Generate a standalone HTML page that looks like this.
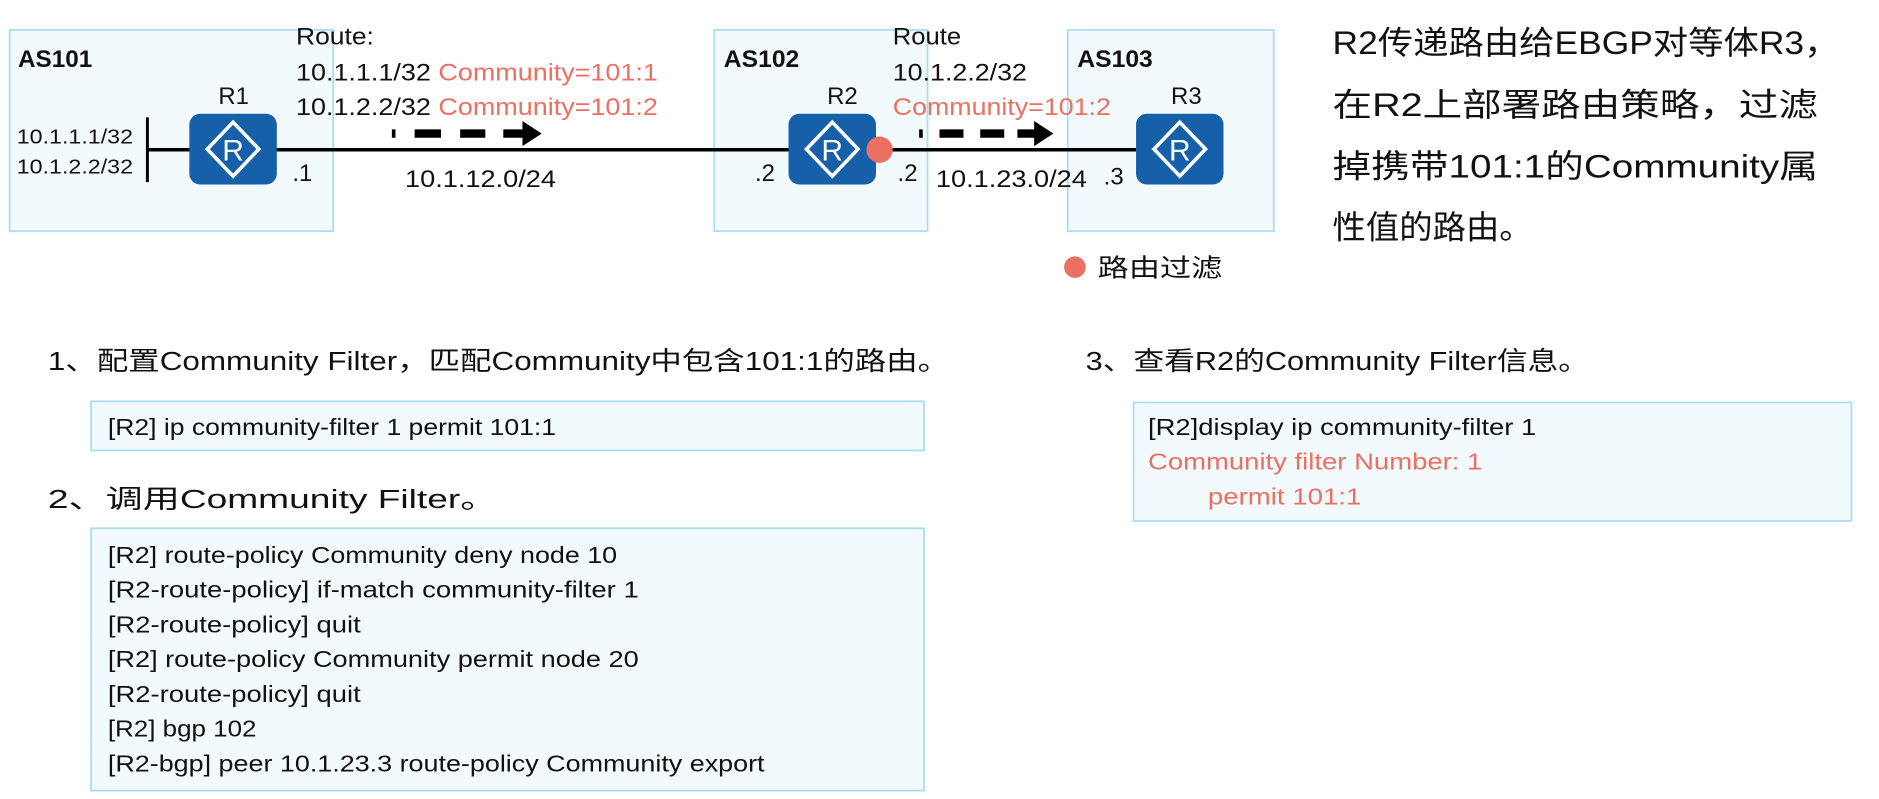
<!DOCTYPE html>
<html><head><meta charset="utf-8"><style>
html,body{margin:0;padding:0;background:#fff;width:1879px;height:799px;overflow:hidden}
svg{display:block}
text{font-family:"Liberation Sans","Noto Sans CJK SC",sans-serif;fill:#111}
.r{fill:#ec6f61}
.b{fill:#f3fafd;stroke:#a9dff3;stroke-width:1.5}
</style></head><body>
<svg width="1879" height="799" viewBox="0 0 1568 667" preserveAspectRatio="none" xmlns="http://www.w3.org/2000/svg">
<defs>
<g id="rt">
<rect x="0" y="0" width="73" height="59" rx="9" fill="#1560a9"/>
<polygon points="36.5,7 58,29.5 36.5,52 15,29.5" fill="none" stroke="#fff" stroke-width="3"/>
<text x="36.5" y="39" text-anchor="middle" font-size="25" style="fill:#fff">R</text>
</g>
</defs>
<rect class="b" x="8" y="25" width="270" height="168"/>
<rect class="b" x="596" y="25" width="178" height="168"/>
<rect class="b" x="891" y="25" width="172" height="168"/>
<line x1="123" y1="125" x2="948" y2="125" stroke="#000" stroke-width="3"/>
<line x1="123" y1="98" x2="123" y2="152" stroke="#000" stroke-width="2.5"/>
<use href="#rt" x="158" y="95"/>
<use href="#rt" x="658" y="95"/>
<use href="#rt" x="948" y="95"/>
<circle cx="734" cy="125" r="11" fill="#ec6f61"/>
<g font-size="20" font-weight="bold">
<text x="15" y="56" textLength="62" lengthAdjust="spacingAndGlyphs">AS101</text><text x="604" y="56" textLength="63" lengthAdjust="spacingAndGlyphs">AS102</text><text x="899" y="56" textLength="63" lengthAdjust="spacingAndGlyphs">AS103</text></g>
<g font-size="20" text-anchor="middle"><text x="195" y="87">R1</text><text x="703" y="87">R2</text><text x="990" y="87">R3</text></g>
<g font-size="17"><text x="14" y="120" textLength="97" lengthAdjust="spacingAndGlyphs">10.1.1.1/32</text><text x="14" y="145" textLength="97" lengthAdjust="spacingAndGlyphs">10.1.2.2/32</text></g>
<g font-size="20"><text x="244" y="151">.1</text><text x="630" y="151">.2</text><text x="749" y="151">.2</text><text x="921" y="154">.3</text>
<text x="247" y="37" textLength="65" lengthAdjust="spacingAndGlyphs">Route:</text>
<text x="247" y="67" textLength="302" lengthAdjust="spacingAndGlyphs">10.1.1.1/32 <tspan class="r">Community=101:1</tspan></text>
<text x="247" y="96" textLength="302" lengthAdjust="spacingAndGlyphs">10.1.2.2/32 <tspan class="r">Community=101:2</tspan></text>
<text x="338" y="156" textLength="126" lengthAdjust="spacingAndGlyphs">10.1.12.0/24</text>
<text x="745" y="37" textLength="57" lengthAdjust="spacingAndGlyphs">Route</text><text x="745" y="67" textLength="112" lengthAdjust="spacingAndGlyphs">10.1.2.2/32</text><text x="745" y="96" class="r" textLength="182" lengthAdjust="spacingAndGlyphs">Community=101:2</text>
<text x="781" y="156" textLength="126" lengthAdjust="spacingAndGlyphs">10.1.23.0/24</text></g>
<g fill="#000">
<rect x="327" y="108" width="3" height="7"/><rect x="346" y="108" width="22" height="7"/><rect x="384" y="108" width="21" height="7"/><rect x="420" y="108" width="18" height="7"/><polygon points="436,101 452,111.5 436,122"/>
<rect x="767" y="108" width="3" height="7"/><rect x="784" y="108" width="20" height="7"/><rect x="818" y="108" width="20" height="7"/><rect x="849" y="108" width="16" height="7"/><polygon points="863,101 879,111.5 863,122"/>
</g>
<circle cx="897" cy="223" r="9" fill="#ec6f61"/>
<text x="916" y="231" font-size="21" textLength="104" lengthAdjust="spacingAndGlyphs">路由过滤</text>
<g font-size="27">
<text x="1112" y="45" textLength="423" lengthAdjust="spacingAndGlyphs">R2传递路由给EBGP对等体R3，</text>
<text x="1112" y="97" textLength="405" lengthAdjust="spacingAndGlyphs">在R2上部署路由策略，过滤</text>
<text x="1112" y="148" textLength="405" lengthAdjust="spacingAndGlyphs">掉携带101:1的Community属</text>
<text x="1112" y="199" textLength="167" lengthAdjust="spacingAndGlyphs">性值的路由。</text>
</g>
<g font-size="22">
<text x="40" y="309" textLength="752" lengthAdjust="spacingAndGlyphs">1、配置Community Filter，匹配Community中包含101:1的路由。</text>
<text x="40" y="424" textLength="375" lengthAdjust="spacingAndGlyphs">2、调用Community Filter。</text>
<text x="906" y="309" textLength="420" lengthAdjust="spacingAndGlyphs">3、查看R2的Community Filter信息。</text>
</g>
<rect class="b" x="76" y="335" width="695" height="41"/>
<rect class="b" x="76" y="441" width="695" height="219"/>
<rect class="b" x="946" y="336" width="599" height="99"/>
<g font-size="19">
<text x="90" y="363" textLength="374" lengthAdjust="spacingAndGlyphs">[R2] ip community-filter 1 permit 101:1</text>
<text x="90" y="470" textLength="425" lengthAdjust="spacingAndGlyphs">[R2] route-policy Community deny node 10</text>
<text x="90" y="499" textLength="443" lengthAdjust="spacingAndGlyphs">[R2-route-policy] if-match community-filter 1</text>
<text x="90" y="528" textLength="211" lengthAdjust="spacingAndGlyphs">[R2-route-policy] quit</text>
<text x="90" y="557" textLength="443" lengthAdjust="spacingAndGlyphs">[R2] route-policy Community permit node 20</text>
<text x="90" y="586" textLength="211" lengthAdjust="spacingAndGlyphs">[R2-route-policy] quit</text>
<text x="90" y="615" textLength="124" lengthAdjust="spacingAndGlyphs">[R2] bgp 102</text>
<text x="90" y="644" textLength="548" lengthAdjust="spacingAndGlyphs">[R2-bgp] peer 10.1.23.3 route-policy Community export</text>
<text x="958" y="363" textLength="324" lengthAdjust="spacingAndGlyphs">[R2]display ip community-filter 1</text>
<text x="958" y="392" class="r" textLength="279" lengthAdjust="spacingAndGlyphs">Community filter Number: 1</text>
<text x="1008" y="421" class="r" textLength="128" lengthAdjust="spacingAndGlyphs">permit 101:1</text>
</g>
</svg>
</body></html>
